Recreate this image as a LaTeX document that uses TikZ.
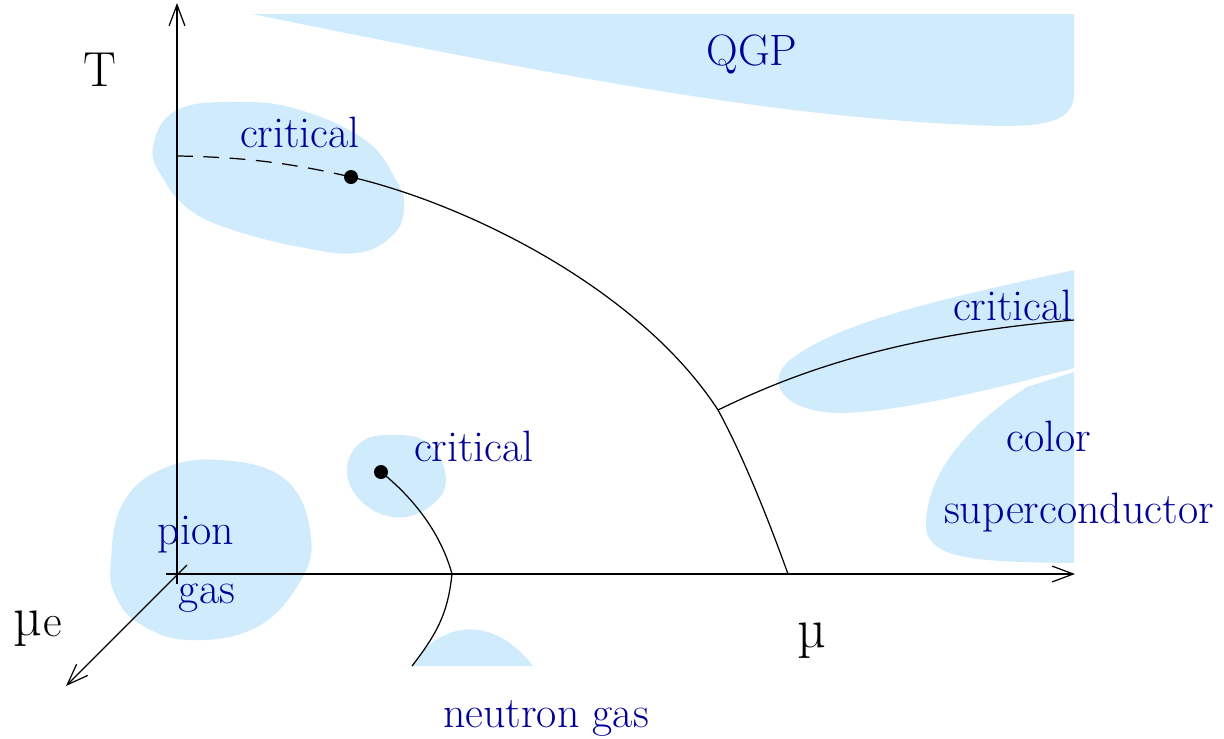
\documentclass[tikz,border=0pt]{standalone}
\usepackage{fontspec}
\usetikzlibrary{arrows.meta}
\definecolor{regionBlue}{RGB}{207,235,252}
\definecolor{labelBlue}{RGB}{0,0,150}
\tikzset{
  phaseRegion/.style={fill=regionBlue, draw=none},
  phaseLabel/.style={text=labelBlue, font=\fontsize{25}{30}\selectfont, inner sep=0pt, anchor=base},
  phaseAxisLabel/.style={font=\fontsize{28}{34}\selectfont, inner sep=0pt, anchor=base},
  phaseAxis/.style={-{Straight Barb[length=12pt,width=9pt]}, line width=0.7pt},
  phaseLine/.style={line width=0.7pt},
  phaseDot/.style={circle, fill=black, inner sep=0pt, minimum size=0.28cm}
}

\begin{document}
\begin{tikzpicture}[x=0.02cm, y=-0.02cm]
      \useasboundingbox (0,0) rectangle (1224,738);

      \fill[phaseRegion] (252,14) -- (1074,14) -- (1074,93) .. controls (1074,120) and (1050,126) .. (1000,126)
        .. controls (800,120) and (600,85) .. cycle;
      \fill[phaseRegion] plot[smooth cycle, tension=0.7] coordinates {(153,147) (177,110) (240,102) (300,110) (365,140)
        (396,180) (404,208) (393,235) (357,253) (300,247) (233,230) (190,210) (164,180)};
      \fill[phaseRegion] (1074,270) -- (1074,368) .. controls (990,390) and (900,412) .. (840,413)
        .. controls (780,412) and (765,380) .. (790,360) .. controls (840,320) and (960,295) .. cycle;
      \fill[phaseRegion] (1074,372) -- (1027,387) .. controls (960,430) and (925,480) .. (926,527)
        .. controls (928,560) and (980,562) .. (1074,563) -- cycle;
      \fill[phaseRegion] plot[smooth cycle, tension=0.7] coordinates {(111,560) (122,505) (160,470) (221,460) (286,480)
        (311,537) (298,585) (255,628) (189,640) (140,624) (115,595)};
      \fill[phaseRegion] plot[smooth cycle, tension=0.7] coordinates {(347,470) (360,443) (389,435) (428,443) (446,480)
        (428,508) (393,517) (360,500)};
      \fill[phaseRegion] (412,666) .. controls (435,625) and (490,610) .. (533,666) -- cycle;

      \coordinate (tBase) at (177,584);
      \coordinate (tTip) at (177,3);
      \coordinate (muBase) at (166,574);
      \coordinate (muTip) at (1075,574);
      \coordinate (muEBase) at (187,565);
      \coordinate (muETip) at (66,686);
      \draw[phaseAxis] (tBase) -- (tTip);
      \draw[phaseAxis] (muBase) -- (muTip);
      \draw[phaseAxis] (muEBase) -- (muETip);

      \node[phaseDot] (cpHigh) at (351,177) {};
      \node[phaseDot] (cpLow) at (381,472) {};
      \coordinate (tAxisEnd) at (177,156);
      \coordinate (junction) at (718,410);
      \coordinate (mainEnd) at (788,574);
      \coordinate (branchEnd) at (1074,320);
      \coordinate (lowCross) at (452,574);
      \coordinate (lowEnd) at (412,666);
      \draw[phaseLine, dashed, dash pattern=on 9pt off 6pt] (tAxisEnd) .. controls (250,157) and (300,165) .. (cpHigh.center);
      \draw[phaseLine] (cpHigh.center) .. controls (470,205) and (640,290) .. (junction);
      \draw[phaseLine] (junction) .. controls (740,450) and (765,510) .. (mainEnd);
      \draw[phaseLine] (junction) .. controls (800,370) and (900,335) .. (branchEnd);
      \draw[phaseLine] (cpLow.center) .. controls (410,495) and (440,530) .. (lowCross);
      \draw[phaseLine] (lowCross) .. controls (448,610) and (440,630) .. (lowEnd);

      \node[phaseAxisLabel] (tLabel) at (100,86) {T};
      \node[phaseAxisLabel] (muLabel) at (812,647) {\fontsize{32}{38}\selectfont µ};
      \node[phaseAxisLabel, anchor=base west] (muELabel) at (13,635) {\fontsize{32}{38}\selectfont µ\kern1pt\raisebox{-1pt}{\fontsize{26}{30}\selectfont e}};
      \node[phaseLabel] (qgp) at (752,65) {QGP};
      \node[phaseLabel] (critHigh) at (300,147) {critical};
      \node[phaseLabel] (critRight) at (1013,320) {critical};
      \node[phaseLabel] (critLow) at (474,461) {critical};
      \node[phaseLabel] (color) at (1049,451) {color};
      \node[phaseLabel] (supercond) at (1079,523) {superconductor};
      \node[phaseLabel] (pion) at (196,544) {pion};
      \node[phaseLabel] (pionGas) at (207,603) {gas};
      \node[phaseLabel] (neutron) at (546,727) {neutron gas};
    \end{tikzpicture}
\end{document}
